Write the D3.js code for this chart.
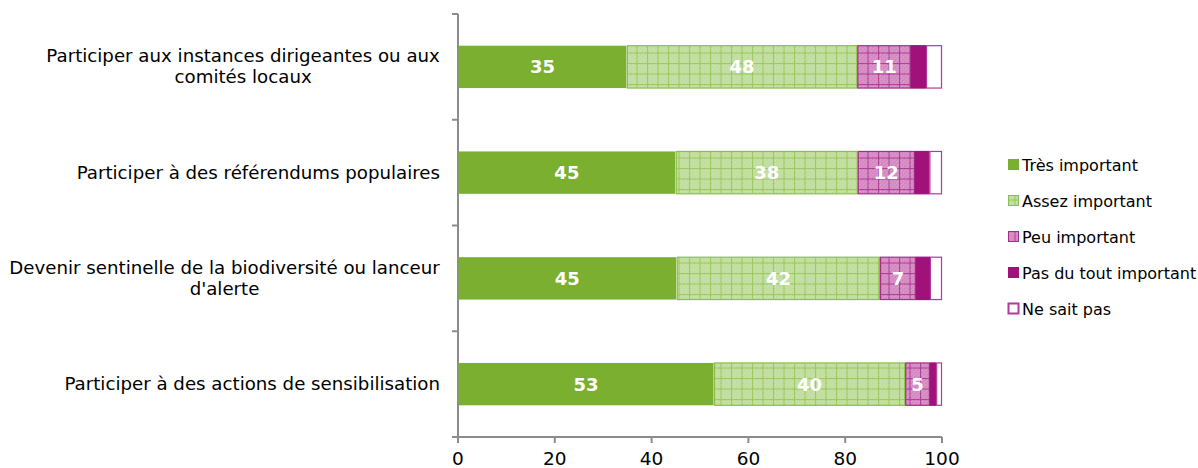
<!DOCTYPE html>
<html>
<head>
<meta charset="utf-8">
<script src="https://cdn.jsdelivr.net/npm/d3@7"></script>
<style>
  body { margin: 0; background: #fff; }
  text { font-family: "DejaVu Sans", Verdana, sans-serif; }
</style>
</head>
<body>
<svg id="chart"></svg>
<script>
// data
var categories = [
  ["Participer aux instances dirigeantes ou aux", "comités locaux"],
  ["Participer à des référendums populaires"],
  ["Devenir sentinelle de la biodiversité ou lanceur", "d'alerte"],
  ["Participer à des actions de sensibilisation"]
];
var seriesNames = ["Très important", "Assez important", "Peu important", "Pas du tout important", "Ne sait pas"];
var tresImportant = [34.9, 45.0, 45.2, 52.9];
var assezImportant = [47.6, 37.6, 42.0, 39.5];
var peuImportant = [11.1, 11.8, 7.4, 5.1];
var pasDuTout = [3.1, 3.0, 2.9, 1.3];
var neSaitPas = [3.3, 2.6, 2.5, 1.2];
var xTicks = [0, 20, 40, 60, 80, 100];

var width = 1198, height = 468;
var svg = d3.select("#chart").attr("width", width).attr("height", height);

var plotLeft = 458, plotRight = 942, plotTop = 14, plotBottom = 437;

var x = d3.scaleLinear().domain([0, 100]).range([plotLeft, plotRight]);
var y = d3.scaleBand().domain(d3.range(categories.length)).range([plotTop, plotBottom])
  .paddingInner(0.59).paddingOuter(0.295);

var green = "#7aaf30", magenta = "#a0117a";

// patterns (grid + fine dither, like the office hatch fills)
var defs = svg.append("defs");
function gridPattern(id, base, dark, light, line) {
  var p = defs.append("pattern").attr("id", id)
    .attr("patternUnits", "userSpaceOnUse").attr("width", 10.5).attr("height", 10.5)
    .attr("x", plotLeft).attr("y", 0);
  p.append("rect").attr("width", 10.5).attr("height", 10.5).attr("fill", base);
  for (var i = 0; i < 5; i++) {
    for (var j = 0; j < 5; j++) {
      if ((i + j) % 2 == 0) {
        p.append("rect").attr("x", 1 + i * 2).attr("y", 1 + j * 2).attr("width", 1).attr("height", 1).attr("fill", dark);
        p.append("rect").attr("x", 2 + i * 2).attr("y", 2 + j * 2).attr("width", 1).attr("height", 1).attr("fill", light);
      }
    }
  }
  p.append("rect").attr("x", 0).attr("y", 0).attr("width", 1).attr("height", 10.5).attr("fill", line);
  p.append("rect").attr("x", 0).attr("y", 0).attr("width", 10.5).attr("height", 1).attr("fill", line);
}
gridPattern("assez", "#c3dfa2", "#b0d386", "#d6eabd", "#9cca60");
gridPattern("peu", "#d68ec4", "#c36aaf", "#e8b2da", "#b0409a");

var fills = [green, "url(#assez)", "url(#peu)", magenta, "#fff"];
var strokes = [green, "#8cbf4a", "#a52e87", magenta, "#b3399a"];

var table = categories.map(function (c, i) {
  return {
    idx: i,
    "Très important": tresImportant[i],
    "Assez important": assezImportant[i],
    "Peu important": peuImportant[i],
    "Pas du tout important": pasDuTout[i],
    "Ne sait pas": neSaitPas[i]
  };
});
var stacked = d3.stack().keys(seriesNames)(table);

// axes lines
var axisColor = "#8c8c8c";
svg.append("line").attr("x1", plotLeft).attr("x2", plotLeft).attr("y1", plotTop).attr("y2", plotBottom)
  .attr("stroke", axisColor).attr("stroke-width", 2);
svg.append("line").attr("x1", plotLeft - 6).attr("x2", plotRight).attr("y1", plotBottom).attr("y2", plotBottom)
  .attr("stroke", axisColor).attr("stroke-width", 2);

var step = y.step();
var yTickPos = d3.range(categories.length + 1).map(function (i) { return plotTop + i * step; });
svg.selectAll(".ytick").data(yTickPos).enter().append("line")
  .attr("x1", plotLeft - 6).attr("x2", plotLeft).attr("y1", function (d) { return d; }).attr("y2", function (d) { return d; })
  .attr("stroke", axisColor).attr("stroke-width", 2);

svg.selectAll(".xtick").data(xTicks).enter().append("line")
  .attr("x1", function (d) { return x(d); }).attr("x2", function (d) { return x(d); })
  .attr("y1", plotBottom).attr("y2", plotBottom + 6)
  .attr("stroke", axisColor).attr("stroke-width", 2);
svg.selectAll(".xlabel").data(xTicks).enter().append("text")
  .attr("x", function (d) { return x(d); }).attr("y", 465)
  .attr("text-anchor", "middle").attr("font-size", 18.5).attr("fill", "#000")
  .text(function (d) { return d; });

// bars
var groups = svg.selectAll(".series").data(stacked).enter().append("g");
groups.each(function (s, si) {
  d3.select(this).selectAll("rect").data(s).enter().append("rect")
    .attr("x", function (d) { return x(d[0]) + 0.5; })
    .attr("y", function (d, i) { return y(i) + 0.5; })
    .attr("width", function (d) { return Math.max(0, x(d[1]) - x(d[0]) - 1); })
    .attr("height", y.bandwidth() - 1)
    .attr("fill", fills[si])
    .attr("stroke", strokes[si])
    .attr("stroke-width", si == 0 ? 0 : 1.2);
  if (si < 3) {
    d3.select(this).selectAll("text").data(s).enter().append("text")
      .attr("x", function (d) { return (x(d[0]) + x(d[1])) / 2; })
      .attr("y", function (d, i) { return y(i) + y.bandwidth() / 2 + 6.5; })
      .attr("text-anchor", "middle").attr("font-size", 18).attr("font-weight", "bold")
      .attr("fill", "#fff")
      .text(function (d) { return Math.round(d[1] - d[0]); });
  }
});

// category labels
categories.forEach(function (lines, i) {
  var cy = y(i) + y.bandwidth() / 2;
  var t = svg.append("text").attr("font-size", 18.2).attr("fill", "#000").attr("text-anchor", "middle");
  var n = lines.length;
  lines.forEach(function (ln, k) {
    t.append("tspan").text(ln).attr("x", 0).attr("y", cy + 6 + (k - (n - 1) / 2) * 21);
  });
  var w = t.node().getBBox().width;
  t.selectAll("tspan").attr("x", 440 - w / 2);
});

// legend
var legend = svg.append("g");
seriesNames.forEach(function (name, i) {
  var ly = 165 + i * 36;
  legend.append("rect").attr("x", 1008.5).attr("y", ly - 5.5).attr("width", 10).attr("height", 10)
    .attr("fill", fills[i]).attr("stroke", strokes[i]).attr("stroke-width", i == 4 ? 2 : 1);
  legend.append("text").attr("x", 1022).attr("y", ly + 5.5).attr("font-size", 16).attr("fill", "#000").text(name);
});
</script>
</body>
</html>
